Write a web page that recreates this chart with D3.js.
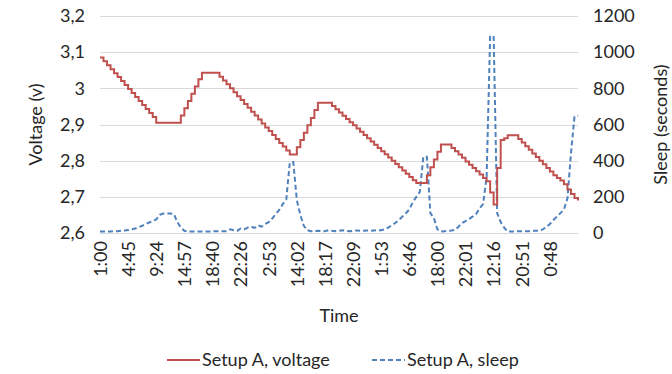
<!DOCTYPE html>
<meta charset="utf-8">
<title>Voltage and sleep</title>
<style>

body {
  margin: 0;
  background: #fff;
}

text {
  font-family: Lato, "Open Sans", sans-serif;
  fill: #262626;
}

.grid line {
  stroke: #d9d9d9;
  stroke-width: 1px;
}

</style>
<body>
<script src="https://cdn.jsdelivr.net/npm/d3@7"></script>
<script>

// x labels shown every 8th sample
var tickLabels = ["1:00", "4:45", "9:24", "14:57", "18:40", "22:26", "2:53", "14:02", "18:17",
                  "22:09", "1:53", "6:46", "18:00", "22:01", "12:16", "20:51", "0:48"];
var labelStep = 8;

var voltage = [
  3.085, 3.075, 3.064, 3.053, 3.042, 3.031, 3.020, 3.009, 2.998, 2.987,
  2.976, 2.965, 2.954, 2.943, 2.932, 2.921, 2.905, 2.905, 2.905, 2.905,
  2.905, 2.905, 2.905, 2.925, 2.945, 2.965, 2.985, 3.005, 3.025, 3.043,
  3.043, 3.043, 3.043, 3.043, 3.032, 3.022, 3.011, 3.000, 2.989, 2.978,
  2.968, 2.957, 2.946, 2.935, 2.925, 2.914, 2.903, 2.892, 2.882, 2.871,
  2.860, 2.849, 2.839, 2.828, 2.817, 2.817, 2.837, 2.857, 2.877, 2.898,
  2.918, 2.940, 2.960, 2.960, 2.960, 2.960, 2.951, 2.942, 2.933, 2.924,
  2.915, 2.906, 2.898, 2.889, 2.880, 2.871, 2.862, 2.853, 2.844, 2.835,
  2.826, 2.818, 2.809, 2.800, 2.791, 2.782, 2.773, 2.764, 2.755, 2.746,
  2.738, 2.738, 2.738, 2.760, 2.782, 2.803, 2.825, 2.845, 2.845, 2.845,
  2.835, 2.826, 2.817, 2.808, 2.798, 2.789, 2.780, 2.771, 2.762, 2.752,
  2.743, 2.712, 2.679, 2.780, 2.857, 2.862, 2.870, 2.870, 2.870, 2.860,
  2.850, 2.840, 2.830, 2.820, 2.810, 2.800, 2.790, 2.780, 2.770, 2.760,
  2.752, 2.745, 2.735, 2.720, 2.708, 2.697, 2.690
];

var sleep = [
  8, 8, 8, 8, 10, 10, 12, 14, 16, 20,
  25, 32, 40, 50, 58, 66, 75, 100, 108, 108,
  108, 106, 60, 30, 12, 8, 8, 8, 8, 8,
  8, 8, 10, 10, 10, 10, 10, 20, 15, 12,
  25, 20, 30, 35, 28, 42, 35, 50, 60, 80,
  105, 127, 160, 185, 390, 392, 182, 100, 40, 15,
  10, 10, 12, 10, 10, 15, 12, 10, 12, 15,
  12, 10, 12, 14, 12, 12, 14, 12, 14, 15,
  15, 20, 30, 42, 55, 72, 90, 109, 130, 170,
  200, 228, 422, 422, 110, 83, 20, 8, 10, 12,
  14, 17, 35, 55, 66, 78, 90, 105, 136, 160,
  311, 1086, 1090, 110, 60, 30, 8, 8, 8, 10,
  10, 10, 10, 12, 12, 12, 20, 33, 50, 72,
  90, 110, 130, 192, 440, 643, 650
];

var voltTicks = [2.6, 2.7, 2.8, 2.9, 3.0, 3.1, 3.2];
var sleepTicks = [0, 200, 400, 600, 800, 1000, 1200];

var w = 672,
    h = 374,
    plotLeft = 100,
    plotRight = 578,
    plotTop = 16,
    plotBottom = 233;

var svg = d3.select("body").append("svg")
    .attr("width", w)
    .attr("height", h);

var x = d3.scalePoint()
    .domain(d3.range(voltage.length))
    .range([plotLeft, plotRight]);

var yV = d3.scaleLinear().domain([2.6, 3.2]).range([plotBottom, plotTop]);
var yS = d3.scaleLinear().domain([0, 1200]).range([plotBottom, plotTop]);

// gridlines
svg.append("g")
    .attr("class", "grid")
  .selectAll("line")
    .data(voltTicks)
  .enter().append("line")
    .attr("x1", plotLeft)
    .attr("x2", plotRight)
    .attr("y1", function(d) { return Math.round(yV(d)) + .5; })
    .attr("y2", function(d) { return Math.round(yV(d)) + .5; });

function comma(d) {
  return d === 3 ? "3" : d3.format(".1f")(d).replace(".", ",");
}

var axL = svg.append("g")
    .attr("transform", "translate(" + (plotLeft - 12) + ",0)")
    .call(d3.axisLeft(yV).tickValues(voltTicks).tickFormat(comma).tickSize(0));

var axR = svg.append("g")
    .attr("transform", "translate(" + (plotRight + 12) + ",0)")
    .call(d3.axisRight(yS).tickValues(sleepTicks).tickFormat(d3.format("d")).tickSize(0));

var axB = svg.append("g")
    .attr("transform", "translate(0," + (plotBottom + 8) + ")")
    .call(d3.axisBottom(x)
      .tickValues(d3.range(0, voltage.length, labelStep))
      .tickFormat(function(d) { return tickLabels[d / labelStep]; })
      .tickSize(0));

[axL, axR, axB].forEach(function(a) {
  a.select(".domain").remove();
  a.selectAll("text")
      .style("font-size", "18px")
      .style("fill", "#262626");
});

axB.selectAll("text")
    .attr("transform", "rotate(-90)")
    .attr("x", 0)
    .attr("y", 0)
    .attr("dx", 0)
    .attr("dy", "0.35em")
    .style("text-anchor", "end");

// series
svg.append("path")
    .datum(sleep)
    .attr("fill", "none")
    .attr("stroke", "#4f81bd")
    .attr("stroke-width", 2)
    .attr("stroke-dasharray", "5,3")
    .attr("d", d3.line()
      .x(function(d, i) { return x(i); })
      .y(function(d) { return yS(d); }));

svg.append("path")
    .datum(voltage)
    .attr("fill", "none")
    .attr("stroke", "#c0504d")
    .attr("stroke-width", 2)
    .attr("d", d3.line()
      .curve(d3.curveStepAfter)
      .x(function(d, i) { return x(i); })
      .y(function(d) { return yV(d); }));

// titles
svg.append("text")
    .attr("transform", "translate(36," + (plotTop + plotBottom) / 2 + ") rotate(-90)")
    .attr("text-anchor", "middle")
    .attr("dy", "0.35em")
    .style("font-size", "18px")
    .text("Voltage (v)");

svg.append("text")
    .attr("transform", "translate(661," + (plotTop + plotBottom) / 2 + ") rotate(-90)")
    .attr("text-anchor", "middle")
    .attr("dy", "0.35em")
    .style("font-size", "18px")
    .text("Sleep (seconds)");

svg.append("text")
    .attr("x", (plotLeft + plotRight) / 2)
    .attr("y", 316)
    .attr("text-anchor", "middle")
    .attr("dy", "0.35em")
    .style("font-size", "18px")
    .text("Time");

// legend
var legend = [
  {name: "Setup A, voltage", color: "#c0504d", dash: null, x: 167},
  {name: "Setup A, sleep", color: "#4f81bd", dash: "5,3", x: 372}
];

var lg = svg.selectAll(".legend")
    .data(legend)
  .enter().append("g")
    .attr("class", "legend")
    .attr("transform", function(d) { return "translate(" + d.x + ",360)"; });

lg.append("line")
    .attr("x1", 0)
    .attr("x2", 33)
    .attr("stroke", function(d) { return d.color; })
    .attr("stroke-width", 2)
    .attr("stroke-dasharray", function(d) { return d.dash; });

lg.append("text")
    .attr("x", 35)
    .attr("dy", "0.35em")
    .style("font-size", "18px")
    .text(function(d) { return d.name; });

</script>
